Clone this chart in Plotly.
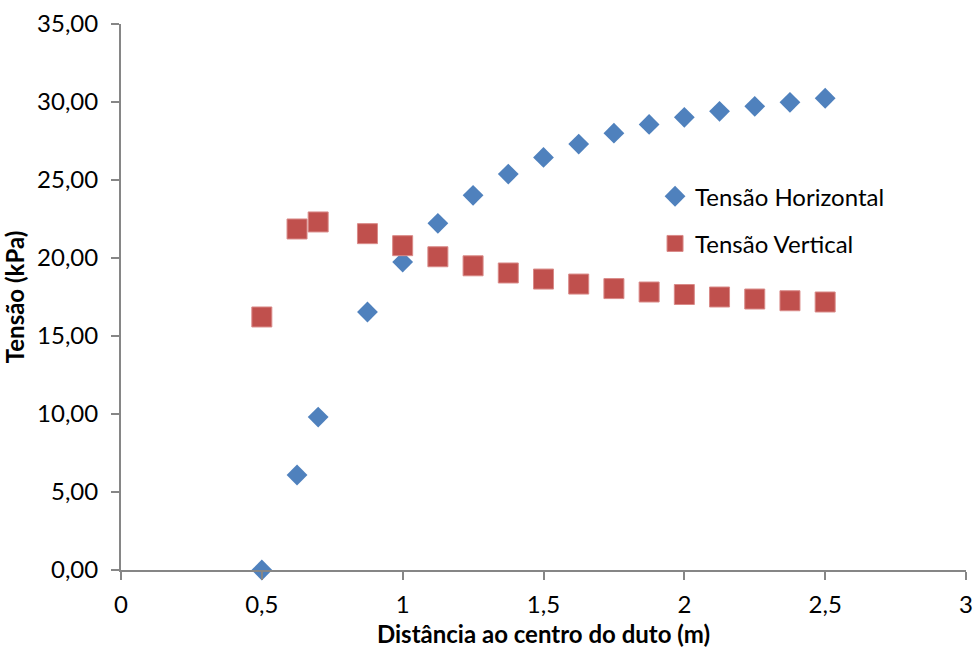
import plotly.graph_objects as go

distancia = [0.5, 0.625, 0.7, 0.875, 1.0, 1.125, 1.25, 1.375, 1.5, 1.625, 1.75, 1.875, 2.0, 2.125, 2.25, 2.375, 2.5]
tensao_horizontal = [0.0, 6.09, 9.80, 16.54, 19.74, 22.22, 24.02, 25.38, 26.45, 27.30, 28.00, 28.56, 29.02, 29.40, 29.72, 29.98, 30.24]
tensao_vertical = [16.22, 21.86, 22.31, 21.56, 20.79, 20.08, 19.50, 19.04, 18.65, 18.33, 18.04, 17.82, 17.66, 17.50, 17.37, 17.26, 17.18]

FONT = "Lato"

fig = go.Figure()
fig.add_trace(go.Scatter(
    x=distancia, y=tensao_horizontal, mode="markers", name="Tensão Horizontal",
    legendgroup="h", cliponaxis=False,
    marker=dict(symbol="diamond", size=16, color="#4F81BD"),
))
fig.add_trace(go.Scatter(
    x=distancia, y=tensao_vertical, mode="markers", name="Tensão Vertical",
    legendgroup="v", cliponaxis=False,
    marker=dict(symbol="square", size=20, color="#C0504D", line=dict(width=1, color="#D98A88")),
))

fig.update_layout(
    width=974, height=650,
    margin=dict(l=121, r=8, t=24, b=80),
    paper_bgcolor="white", plot_bgcolor="white",
    separators=",.",
    font=dict(family=FONT, size=24, color="black"),
    showlegend=True,
    legend=dict(x=0.632, y=0.725, xanchor="left", yanchor="top",
                font=dict(size=24), tracegroupgap=13, bgcolor="rgba(0,0,0,0)"),
    xaxis=dict(range=[0, 3], dtick=0.5, tick0=0, showgrid=False, zeroline=False,
               showline=True, linecolor="#868686", linewidth=2,
               ticks="outside", ticklen=8, tickcolor="#868686", tickwidth=2,
               ticklabelstandoff=4, automargin=False,
               title=dict(text="<b>Distância ao centro do duto (m)</b>", font=dict(size=24), standoff=9)),
    yaxis=dict(range=[0, 35], dtick=5, tick0=0, tickformat=".2f", showgrid=False, zeroline=False,
               showline=True, linecolor="#868686", linewidth=2,
               ticks="outside", ticklen=8, tickcolor="#868686", tickwidth=2,
               ticklabelstandoff=8, automargin=False,
               title=dict(text="<b>Tensão (kPa)</b>", font=dict(size=24), standoff=8)),
)

fig.write_html("out.html")
